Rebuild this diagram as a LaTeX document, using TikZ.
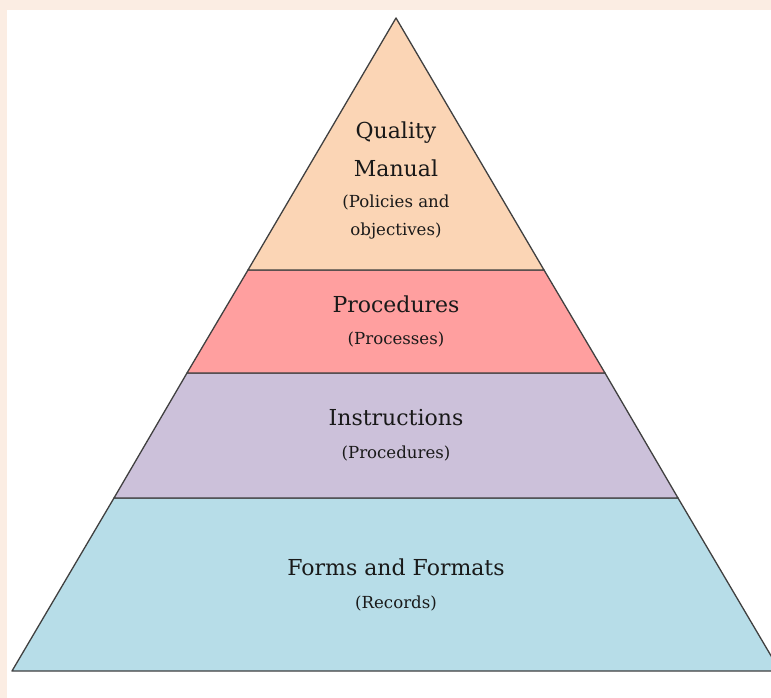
\documentclass[tikz,border=0pt]{standalone}
\usepackage{fontspec}
\setmainfont{DejaVu Serif}
\definecolor{pagebg}{HTML}{FBEDE3}
\definecolor{topc}{HTML}{FBD5B5}
\definecolor{procc}{HTML}{FF9F9F}
\definecolor{instc}{HTML}{CCC1DA}
\definecolor{formc}{HTML}{B7DDE8}
\definecolor{edge}{HTML}{404040}
\tikzset{
  band/.style={draw=edge, line width=1.3pt, line join=round},
  big/.style={font=\fontsize{22}{26}\selectfont, text=black!90, inner sep=0pt},
  small/.style={font=\fontsize{16.6}{20}\selectfont, text=black!90, inner sep=0pt}
}
\begin{document}
\begin{tikzpicture}[x=1pt,y=-1pt]
\useasboundingbox (0,0) rectangle (771,698);
\fill[pagebg] (0,0) rectangle (771,698);
\fill[white] (7,10) rectangle (771,698);
\clip (0,0) rectangle (771,698);
\coordinate (apex) at (396,18);
\coordinate (l1) at (248,270); \coordinate (r1) at (544,270);
\coordinate (l2) at (187,373); \coordinate (r2) at (605,373);
\coordinate (l3) at (114,498); \coordinate (r3) at (678,498);
\coordinate (l4) at (12,671);  \coordinate (r4) at (780,671);
\filldraw[band, fill=formc] (l3) -- (r3) -- (r4) -- (l4) -- cycle;
\filldraw[band, fill=instc] (l2) -- (r2) -- (r3) -- (l3) -- cycle;
\filldraw[band, fill=procc] (l1) -- (r1) -- (r2) -- (l2) -- cycle;
\filldraw[band, fill=topc] (apex) -- (r1) -- (l1) -- cycle;
\node[big] (q1) at (396,133) {Quality};
\node[big] (q2) at (396,168) {Manual};
\node[small] (q3) at (396,202) {(Policies and};
\node[small] (q4) at (396,231) {objectives)};
\node[big] (p1) at (396,304) {Procedures};
\node[small] (p2) at (396,339) {(Processes)};
\node[big] (i1) at (396,418) {Instructions};
\node[small] (i2) at (396,453) {(Procedures)};
\node[big] (f1) at (396,567) {Forms and Formats};
\node[small] (f2) at (396,603) {(Records)};
\end{tikzpicture}
\end{document}
